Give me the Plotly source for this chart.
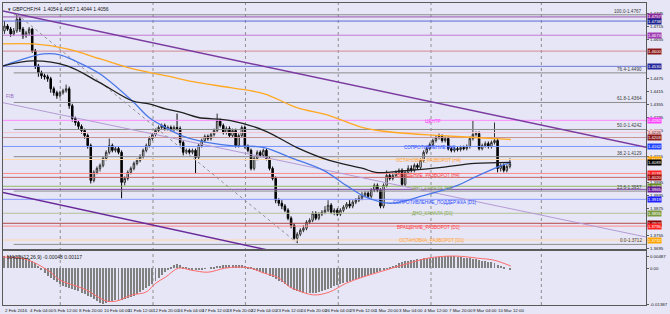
import plotly.graph_objects as go

# ---------------- DATA ----------------
bar_open = [1.4693,1.4715,1.4701,1.4679,1.4693,1.4747,1.4701,1.4670,1.4684,1.4701,
1.4601,1.4532,1.4501,1.4487,1.4482,1.4473,1.4427,1.4409,1.4395,1.4409,
1.4418,1.4427,1.4349,1.4290,1.4272,1.4254,1.4235,1.4212,1.4166,1.4006,
1.4043,1.4061,1.4075,1.4107,1.4135,1.4166,1.4144,1.4152,1.4135,1.3997,
1.4015,1.4043,1.4061,1.4084,1.4098,1.4116,1.4144,1.4166,1.4198,1.4217,
1.4235,1.4249,1.4258,1.4244,1.4249,1.4240,1.4249,1.4244,1.4180,1.4135,
1.4144,1.4135,1.4144,1.4112,1.4166,1.4189,1.4208,1.4198,1.4217,1.4235,
1.4281,1.4258,1.4226,1.4244,1.4212,1.4235,1.4166,1.4212,1.4249,1.4162,
1.4144,1.4061,1.4107,1.4135,1.4121,1.4144,1.4107,1.4061,1.4015,1.3915,
1.3901,1.3888,1.3869,1.3832,1.3800,1.3740,1.3759,1.3777,1.3786,1.3814,
1.3823,1.3855,1.3832,1.3851,1.3860,1.3869,1.3892,1.3860,1.3869,1.3851,
1.3869,1.3883,1.3897,1.3888,1.3906,1.3915,1.3924,1.3938,1.3947,1.3933,
1.3961,1.3983,1.3961,1.3888,1.3983,1.4029,1.4015,1.4029,1.4043,1.4052,
1.3988,1.4043,1.4061,1.4052,1.4075,1.4066,1.4098,1.4135,1.4152,1.4171,
1.4189,1.4203,1.4208,1.4189,1.4198,1.4152,1.4144,1.4152,1.4148,1.4157,
1.4152,1.4162,1.4198,1.4217,1.4221,1.4152,1.4166,1.4175,1.4162,1.4180,
1.4189,1.4061,1.4075,1.4052,1.4070]
bar_close = [1.4715,1.4701,1.4679,1.4693,1.4747,1.4701,1.4670,1.4684,1.4701,1.4601,
1.4532,1.4501,1.4487,1.4482,1.4473,1.4427,1.4409,1.4395,1.4409,1.4418,
1.4427,1.4349,1.4290,1.4272,1.4254,1.4235,1.4212,1.4166,1.4006,1.4043,
1.4061,1.4075,1.4107,1.4135,1.4166,1.4144,1.4152,1.4135,1.3997,1.4015,
1.4043,1.4061,1.4084,1.4098,1.4116,1.4144,1.4166,1.4198,1.4217,1.4235,
1.4249,1.4258,1.4244,1.4249,1.4240,1.4249,1.4244,1.4180,1.4135,1.4144,
1.4135,1.4144,1.4112,1.4166,1.4189,1.4208,1.4198,1.4217,1.4235,1.4281,
1.4258,1.4226,1.4244,1.4212,1.4235,1.4166,1.4212,1.4249,1.4162,1.4144,
1.4061,1.4107,1.4135,1.4121,1.4144,1.4107,1.4061,1.4015,1.3915,1.3901,
1.3888,1.3869,1.3832,1.3800,1.3740,1.3759,1.3777,1.3786,1.3814,1.3823,
1.3855,1.3832,1.3851,1.3860,1.3869,1.3892,1.3860,1.3869,1.3851,1.3869,
1.3883,1.3897,1.3888,1.3906,1.3915,1.3924,1.3938,1.3947,1.3933,1.3961,
1.3983,1.3961,1.3888,1.3983,1.4029,1.4015,1.4029,1.4043,1.4052,1.3988,
1.4043,1.4061,1.4052,1.4075,1.4066,1.4098,1.4135,1.4152,1.4171,1.4189,
1.4203,1.4208,1.4189,1.4198,1.4152,1.4144,1.4152,1.4148,1.4157,1.4152,
1.4162,1.4198,1.4217,1.4221,1.4152,1.4166,1.4175,1.4162,1.4180,1.4189,
1.4061,1.4075,1.4052,1.4070,1.4084]
bar_high = [1.4738,1.4724,1.4711,1.4706,1.4770,1.4757,1.4711,1.4693,1.4711,1.4706,
1.4610,1.4541,1.4510,1.4496,1.4492,1.4482,1.4437,1.4418,1.4418,1.4427,
1.4446,1.4437,1.4358,1.4299,1.4281,1.4263,1.4244,1.4221,1.4175,1.4052,
1.4070,1.4084,1.4116,1.4144,1.4198,1.4175,1.4162,1.4162,1.4144,1.4024,
1.4052,1.4070,1.4093,1.4107,1.4126,1.4152,1.4175,1.4208,1.4226,1.4244,
1.4258,1.4267,1.4267,1.4258,1.4258,1.4258,1.4313,1.4254,1.4189,1.4152,
1.4152,1.4152,1.4152,1.4175,1.4198,1.4217,1.4217,1.4226,1.4244,1.4313,
1.4290,1.4267,1.4254,1.4254,1.4244,1.4244,1.4221,1.4258,1.4258,1.4171,
1.4152,1.4116,1.4144,1.4144,1.4152,1.4152,1.4116,1.4070,1.4024,1.3924,
1.3915,1.3897,1.3878,1.3841,1.3809,1.3768,1.3786,1.3800,1.3823,1.3832,
1.3864,1.3864,1.3860,1.3869,1.3888,1.3915,1.3901,1.3878,1.3878,1.3878,
1.3892,1.3906,1.3915,1.3915,1.3924,1.3938,1.3952,1.3956,1.3956,1.3970,
1.3992,1.3992,1.3970,1.3992,1.4052,1.4038,1.4043,1.4052,1.4061,1.4061,
1.4052,1.4075,1.4075,1.4084,1.4084,1.4107,1.4144,1.4162,1.4180,1.4198,
1.4212,1.4221,1.4217,1.4208,1.4208,1.4162,1.4162,1.4162,1.4166,1.4166,
1.4171,1.4208,1.4281,1.4231,1.4231,1.4175,1.4185,1.4185,1.4189,1.4272,
1.4198,1.4084,1.4084,1.4079,1.4107]
bar_low = [1.4679,1.4693,1.4666,1.4670,1.4684,1.4688,1.4656,1.4661,1.4670,1.4592,
1.4518,1.4482,1.4473,1.4469,1.4459,1.4409,1.4395,1.4381,1.4386,1.4400,
1.4409,1.4335,1.4276,1.4258,1.4240,1.4221,1.4198,1.4152,1.3992,1.3997,
1.4034,1.4047,1.4066,1.4098,1.4126,1.4135,1.4135,1.4126,1.3924,1.3983,
1.4006,1.4034,1.4052,1.4075,1.4089,1.4107,1.4135,1.4157,1.4189,1.4208,
1.4226,1.4240,1.4235,1.4235,1.4231,1.4231,1.4235,1.4166,1.4121,1.4126,
1.4126,1.4126,1.4038,1.4102,1.4157,1.4180,1.4189,1.4189,1.4208,1.4226,
1.4249,1.4217,1.4217,1.4203,1.4203,1.4157,1.4157,1.4203,1.4152,1.4135,
1.4052,1.4052,1.4098,1.4112,1.4112,1.4098,1.4052,1.4006,1.3901,1.3888,
1.3874,1.3860,1.3823,1.3786,1.3732,1.3718,1.3750,1.3768,1.3777,1.3805,
1.3814,1.3823,1.3823,1.3842,1.3851,1.3860,1.3851,1.3846,1.3842,1.3842,
1.3860,1.3874,1.3878,1.3878,1.3897,1.3906,1.3915,1.3929,1.3924,1.3924,
1.3952,1.3952,1.3878,1.3878,1.3974,1.4006,1.4006,1.4020,1.4034,1.3979,
1.3979,1.4034,1.4043,1.4043,1.4057,1.4057,1.4089,1.4126,1.4144,1.4162,
1.4180,1.4194,1.4180,1.4180,1.4144,1.4135,1.4135,1.4139,1.4139,1.4144,
1.4144,1.4152,1.4189,1.4208,1.4144,1.4144,1.4157,1.4152,1.4152,1.4171,
1.4043,1.4047,1.4043,1.4043,1.4061]

macd_hist = [0.0047,0.0048,0.0049,0.0048,0.0049,0.0047,
0.0045,0.0042,0.0038,0.0031,
0.0020,0.0008,-0.0005,
-0.0018,-0.0028,-0.0038,-0.0046,
-0.0055,-0.0062,-0.0068,
-0.0072,-0.0076,-0.0080,-0.0085,-0.0090,-0.0095,-0.0100,-0.0106,-0.0113,-0.0120,-0.0127,
-0.0135,-0.0139,-0.0137,
-0.0133,-0.0129,-0.0125,-0.0122,-0.0124,-0.0121,-0.0117,-0.0112,-0.0106,-0.0100,-0.0093,-0.0086,-0.0078,-0.0069,-0.0060,
-0.0048,-0.0036,-0.0024,-0.0013,-0.0004,0.0005,0.0012,
0.0016,0.0013,0.0007,
0.0002,-0.0003,-0.0006,-0.0008,-0.0006,-0.0004,-0.0002,0.0000,0.0003,0.0005,0.0008,0.0011,
0.0013,0.0014,0.0015,0.0014,0.0013,0.0012,0.0012,0.0010,0.0006,0.0002,
-0.0004,-0.0009,-0.0014,-0.0018,-0.0023,-0.0028,-0.0034,-0.0041,-0.0048,-0.0055,-0.0062,-0.0069,-0.0076,-0.0083,
-0.0088,-0.0092,-0.0095,-0.0097,-0.0098,-0.0097,-0.0095,-0.0092,-0.0088,-0.0084,
-0.0080,-0.0075,-0.0070,-0.0066,-0.0062,-0.0058,-0.0054,-0.0050,-0.0046,-0.0042,
-0.0038,-0.0034,-0.0030,-0.0026,-0.0022,-0.0018,-0.0014,-0.0010,-0.0006,-0.0001,
0.0005,0.0010,0.0015,0.0020,0.0024,0.0028,0.0031,0.0033,0.0035,0.0037,
0.0038,0.0039,0.0040,0.0041,0.0042,0.0044,0.0045,0.0046,0.0048,0.0049,
0.0048,0.0047,0.0045,0.0043,0.0041,0.0040,0.0039,0.0038,0.0036,0.0033,
0.0031,0.0029,0.0027,0.0025,0.0023,0.0015,0.0010,0.0004,0.0000,-0.0005]

signal_bar = [-0.5,5.3,9.4,14.9,18,22.2,26.7,30.9,33.2,36.3,41.4,45.9,49.1,52.3,56.5,60.6,66,71.5,75.7,79.8,
              84.3,88.5,92.6,94.9,100.3,105.4,110.9,116.3,121.4,126.9,132.3,137.4,143.8,148.3,153.4,158.9,164.3]
signal_val = [0.0045,0.0041,0.0025,-0.0014,-0.0045,-0.0064,-0.0084,-0.0115,-0.0127,-0.0127,-0.0103,-0.0092,-0.0057,-0.0033,0.0002,-0.0006,-0.0014,0.0002,0.0006,0.0002,
              -0.0018,-0.0033,-0.0072,-0.0084,-0.0103,-0.0092,-0.0057,-0.0033,-0.0014,0.0006,0.0025,0.0041,0.0049,0.0048,0.0041,0.0033,0.0010]

ma_orange_bar = [-0.5,9.4,20.3,30.9,41.4,52.3,62.9,73.4,84.3,94.9,105.4,116.3,126.9,141.9,152.5,164.3]
ma_orange_val = [1.4633,1.4633,1.4610,1.4565,1.4519,1.4487,1.4455,1.4432,1.4404,1.4340,1.4304,1.4249,1.4226,1.4212,1.4203,1.4194]
ma_blue_bar = [-0.5,4.3,12.6,18,22.9,30.9,41.4,46.9,52.3,57.4,62.9,73.4,84.3,92.6,103.5,110.9,117.3,125.3,136.5,147,152.5,159.8,164.3]
ma_blue_val = [1.4532,1.4555,1.4587,1.4583,1.4555,1.4496,1.4372,1.4295,1.4249,1.4212,1.4189,1.4166,1.4157,1.4112,1.4052,1.3983,1.3929,1.3901,1.3938,1.3983,1.4020,1.4066,1.4089]
ma_black_bar = [-0.5,9.4,20.3,30.9,41.4,46.9,52.3,57.4,62.9,73.4,84.3,94.9,105.4,116.3,120.5,131.0,141.9,152.5,164.3]
ma_black_val = [1.4532,1.4555,1.4532,1.4455,1.4372,1.4358,1.4335,1.4318,1.4295,1.4281,1.4235,1.4157,1.4098,1.4061,1.4043,1.4052,1.4066,1.4084,1.4089]

# horizontal levels: price, line colour, box colour, box text colour
level_price = [1.4757,1.4738,1.4673,1.4600,1.4530,1.4282,1.4226,1.4203,1.4162,1.4102,1.4038,1.4020,1.3979,1.3965,1.3919,1.3855,1.3809,1.3796,1.3732]
level_line = ['#9a50b0','#5a6ad8','#c47ad4','#d48a90','#6a7ad8','#ff88ff','#f2c4cc','#c89494','#7894ff','#ffd8a8','#ff8c8c','#c86868','#98b868','#8048a8','#8898ff','#b4c494','#b44848','#ff8888','#ffd8a8']
level_box = ['#8b2a9b','#1c2490','#a23cb4','#8b1a1a','#24289c','#ff44ff','#f4c6cc','#8b1a1a','#2044ff','#ffa500','#ff2020','#a01010','#6b8e23','#6a1b9a','#2020ff','#7a9a40','#8b0000','#ff2020','#ffa500']
level_text = ['#ffffff','#ffffff','#ffffff','#ffffff','#ffffff','#ffffff','#663333','#ffffff','#ffffff','#ffffff','#ffffff','#ffffff','#ffffff','#ffffff','#ffffff','#ffffff','#ffffff','#ffffff','#ffffff']
current_price = 1.4089

fib_price = [1.4767,1.4500,1.4364,1.4240,1.4115,1.3957,1.3712]
fib_label = ['100.0-1.4767','76.4-1.4490','61.8-1.4364','50.0-1.4242','38.2-1.4129','23.6-1.3957','0.0-1.3712']

chan_upper = ([-0.5,208.5],[1.4784,1.4157])
chan_lower = ([-0.5,90.0],[1.3951,1.3672])
chan_light = ([-0.5,208.5],[1.4363,1.3745])
fib_trend = ([4.0,95.0],[1.4770,1.3718])

level_texts = ['ЦЕНТР','СОПРОТИВЛЕНИЕ [H4]','ОСТАНОВКА_РАЗВОРОТ [H4]','ВРАЩЕНИЕ_РАЗВОРОТ [H4]','ДНО_КАНАЛА [H4]',
               'СОПРОТИВЛЕНИЕ_ПОДДЕРЖКА [D1]','ДНО_КАНАЛА [D1]','ВРАЩЕНИЕ_РАЗВОРОТ [D1]','ОСТАНОВКА_РАЗВОРОТ [D1]']
level_text_bar = [139.0,138.0,137.5,137.5,139.0,139.5,139.0,137.5,138.5]
level_text_price = [1.4276,1.4157,1.4098,1.4029,1.3970,1.3906,1.3852,1.3791,1.3731]
level_text_color = ['#ff40ff','#3050ff','#ffa040','#ff4040','#88aa55','#3050ff','#88aa55','#ff4040','#ffa040']

# right-axis tick labels that are not hidden behind the level boxes
y_tick_vals = [1.3695,1.3755,1.3875,1.3935,1.3995,1.4115,1.4235,1.4295,1.4355,1.4415,1.4475,1.4655,1.4715,1.4775]
date_labels = ["2 Feb 2016","4 Feb 04:00","5 Feb 12:00","8 Feb 20:00","10 Feb 04:00","11 Feb 12:00","12 Feb 20:00",
               "16 Feb 04:00","17 Feb 12:00","18 Feb 20:00","22 Feb 04:00","23 Feb 12:00","24 Feb 20:00","26 Feb 04:00",
               "29 Feb 12:00","1 Mar 20:00","3 Mar 04:00","4 Mar 12:00","7 Mar 20:00","9 Mar 04:00","10 Mar 12:00"]
bars_per_label = 8
week_grid = [18.1,48.2,78.2,108.3,138.4,174.2]

n = len(bar_close)
assert len(bar_open) == n == len(bar_high) == len(bar_low) == len(macd_hist)
bar_index = list(range(n))

BG = '#e6e6f6'
FONT = 'Liberation Sans'
X_RANGE = [-0.48, 208.16]

fig = go.Figure()

# fib horizontal lines
for p in fib_price:
    fig.add_trace(go.Scatter(x=[3.0, X_RANGE[1]], y=[p, p], mode='lines',
                             line=dict(color='#8c8c8c', width=1), hoverinfo='skip', showlegend=False))
# coloured levels
for p, c in zip(level_price, level_line):
    fig.add_trace(go.Scatter(x=X_RANGE, y=[p, p], mode='lines',
                             line=dict(color=c, width=1), hoverinfo='skip', showlegend=False))
# channels / trend lines
fig.add_trace(go.Scatter(x=chan_upper[0], y=chan_upper[1], mode='lines', line=dict(color='#7a3aa0', width=1.5), hoverinfo='skip', showlegend=False))
fig.add_trace(go.Scatter(x=chan_lower[0], y=chan_lower[1], mode='lines', line=dict(color='#6a2a9a', width=1.5), hoverinfo='skip', showlegend=False))
fig.add_trace(go.Scatter(x=chan_light[0], y=chan_light[1], mode='lines', line=dict(color='#b49ad4', width=1), hoverinfo='skip', showlegend=False))
fig.add_trace(go.Scatter(x=fib_trend[0], y=fib_trend[1], mode='lines', line=dict(color='#909090', width=1, dash='dot'), hoverinfo='skip', showlegend=False))

# moving averages
fig.add_trace(go.Scatter(x=ma_orange_bar, y=ma_orange_val, mode='lines', line=dict(color='#ffa820', width=1.3, shape='spline'), hoverinfo='skip', showlegend=False))
fig.add_trace(go.Scatter(x=ma_blue_bar, y=ma_blue_val, mode='lines', line=dict(color='#4a78e8', width=1.3, shape='spline'), hoverinfo='skip', showlegend=False))
fig.add_trace(go.Scatter(x=ma_black_bar, y=ma_black_val, mode='lines', line=dict(color='#202020', width=1.3, shape='spline'), hoverinfo='skip', showlegend=False))

# candles
fig.add_trace(go.Candlestick(x=bar_index, open=bar_open, high=bar_high, low=bar_low, close=bar_close,
                             increasing=dict(line=dict(color='#303030', width=1), fillcolor='#ffffff'),
                             decreasing=dict(line=dict(color='#000000', width=1), fillcolor='#000000'),
                             whiskerwidth=0, hoverinfo='skip', showlegend=False))

# MACD
fig.add_trace(go.Bar(x=bar_index, y=macd_hist, width=0.32, marker=dict(color='#808080', line=dict(width=0)),
                     xaxis='x2', yaxis='y2', hoverinfo='skip', showlegend=False))
fig.add_trace(go.Scatter(x=signal_bar, y=signal_val, mode='lines', line=dict(color='#ff6a6a', width=1, shape='spline'),
                         xaxis='x2', yaxis='y2', hoverinfo='skip', showlegend=False))

ann = []
small = dict(family=FONT, size=5, color='#202020')
tiny = dict(family=FONT, size=4.4, color='#202020')
# title
ann.append(dict(xref='paper', yref='paper', x=0, y=1, xanchor='left', yanchor='top', xshift=3, yshift=-1,
                text='▾ GBPCHF,H4  1.4054 1.4057 1.4044 1.4056', showarrow=False, font=small))
ann.append(dict(xref='paper', yref='y2', x=0, y=0.0068, xanchor='left', yanchor='top', xshift=2, yshift=-1,
                text='MACD(12,26,9) -0.00048 0.00117', showarrow=False, font=small))
ann.append(dict(xref='x', yref='y', x=-0.3, y=1.4372, xanchor='left', yanchor='bottom',
                text='FIB', showarrow=False, font=dict(family=FONT, size=5, color='#9a6ac0')))
# dates
for k, lab in enumerate(date_labels):
    ann.append(dict(xref='x', yref='paper', x=max(k * bars_per_label - 0.5, -0.45), y=0, xanchor='left', yanchor='top', yshift=-1,
                    text=lab, showarrow=False, font=tiny))
# fib labels
for p, lab in zip(fib_price, fib_label):
    ann.append(dict(xref='x', yref='y', x=X_RANGE[1], y=p, xanchor='right', yanchor='bottom', xshift=-2, yshift=-1,
                    text=lab, showarrow=False, font=dict(family=FONT, size=4.6, color='#404040')))
# level text labels
for t, xb, p, c in zip(level_texts, level_text_bar, level_text_price, level_text_color):
    ann.append(dict(xref='x', yref='y', x=xb, y=p, xanchor='center', yanchor='middle',
                    text=t, showarrow=False, font=dict(family=FONT, size=4.6, color=c)))
# right-side price boxes
for p, b, tc in zip(level_price, level_box, level_text):
    ann.append(dict(xref='paper', yref='y', x=1, y=p, xanchor='left', yanchor='middle', xshift=1,
                    text=f'{p:.4f}', showarrow=False, bgcolor=b, borderpad=0,
                    font=dict(family=FONT, size=4.2, color=tc)))
ann.append(dict(xref='paper', yref='y', x=1, y=current_price, xanchor='left', yanchor='middle', xshift=1,
                text=f'{current_price:.4f}', showarrow=False, bgcolor='#000000', borderpad=0,
                font=dict(family=FONT, size=4.2, color='#ffffff')))

shapes = []
for g in week_grid:
    shapes.append(dict(type='line', xref='x', yref='paper', x0=g, x1=g, y0=0, y1=1,
                       line=dict(color='#909090', width=1, dash='dot'), layer='below'))

axis_common = dict(showgrid=False, zeroline=False, showline=True, mirror=True, linecolor='#5a5a5a', linewidth=1)

fig.update_layout(
    width=670, height=314,
    margin=dict(l=2, r=16, t=2, b=9),
    paper_bgcolor=BG, plot_bgcolor=BG,
    font=dict(family=FONT, size=5, color='#202020'),
    showlegend=False, bargap=0,
    xaxis=dict(domain=[0, 1], range=X_RANGE, anchor='y', showticklabels=False, rangeslider=dict(visible=False), **axis_common),
    xaxis2=dict(domain=[0, 1], range=X_RANGE, anchor='y2', matches='x', showticklabels=False, **axis_common),
    yaxis=dict(domain=[0.1848, 1], range=[1.3690, 1.4821], side='right', anchor='x',
               tickvals=y_tick_vals, ticktext=[f'{v:.4f}' for v in y_tick_vals],
               ticks='outside', ticklen=2, tickcolor='#5a5a5a', tickfont=tiny,
               **axis_common),
    yaxis2=dict(domain=[0, 0.1782], range=[-0.01424, 0.00683], side='right', anchor='x2',
                tickvals=[0.00487, 0, -0.01387], ticktext=['0.00487', '0.00', '-0.01387'],
                ticks='outside', ticklen=2, tickcolor='#5a5a5a', tickfont=tiny,
                **axis_common),
    annotations=ann, shapes=shapes,
)

fig.write_html('out.html')
